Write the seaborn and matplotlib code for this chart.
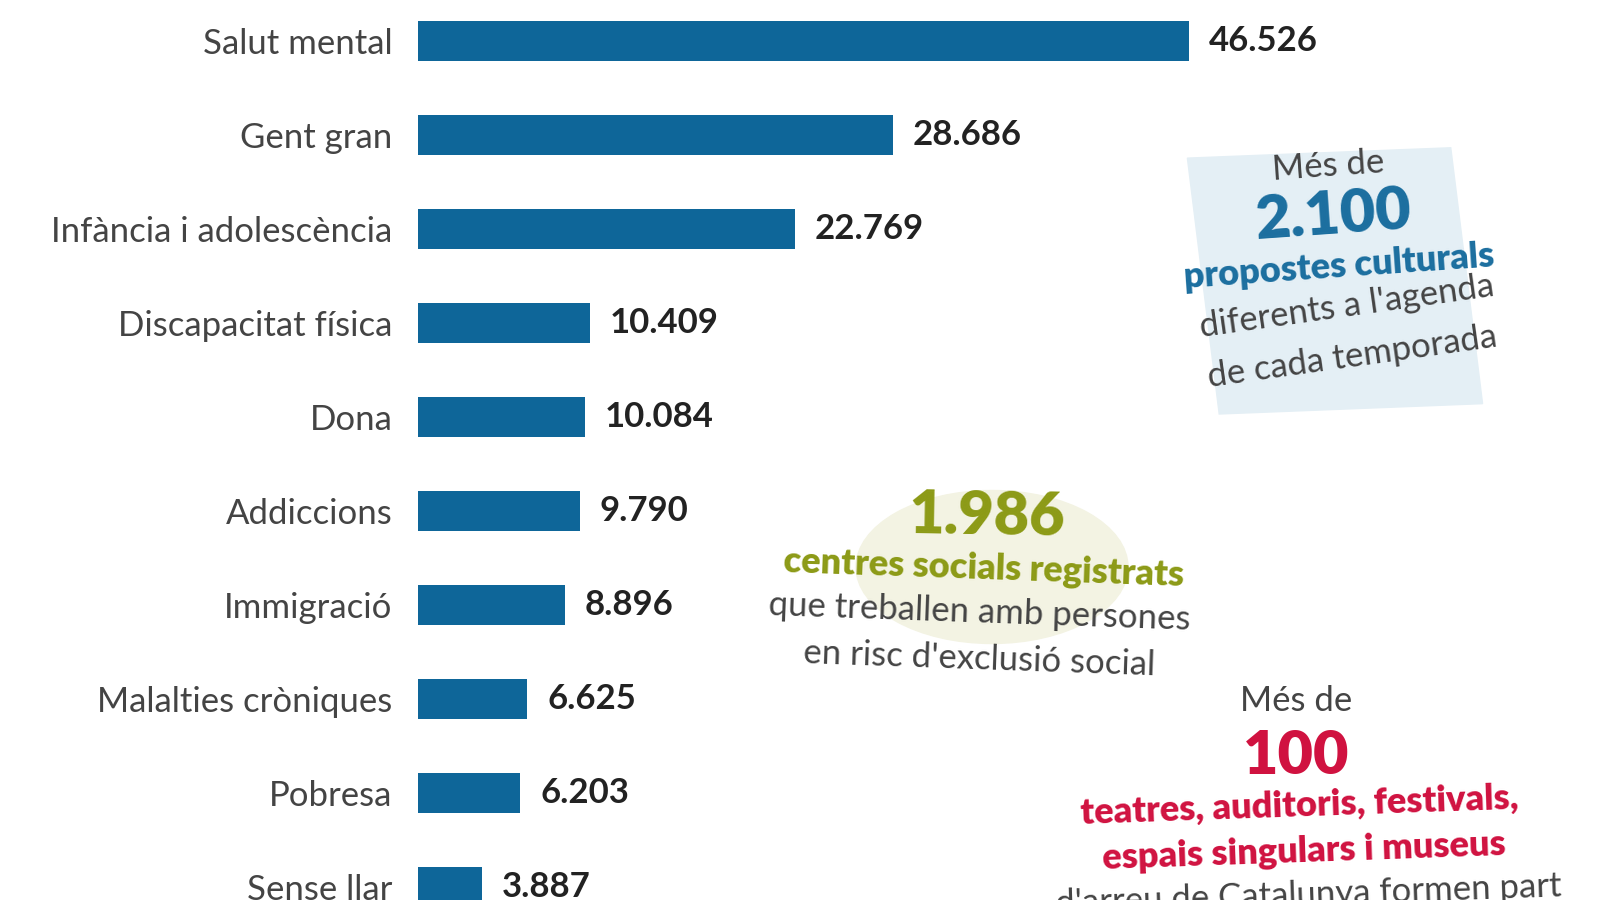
import matplotlib
matplotlib.use("Agg")
import matplotlib.pyplot as plt
import seaborn as sns
import pandas as pd
from matplotlib.patches import Rectangle, Circle

categories = ["Salut mental", "Gent gran", "Infància i adolescència", "Discapacitat física",
              "Dona", "Addiccions", "Immigració", "Malalties cròniques", "Pobresa", "Sense llar"]
values = [46526, 28686, 22769, 10409, 10084, 9790, 8896, 6625, 6203, 3887]
value_labels = ["46.526", "28.686", "22.769", "10.409", "10.084", "9.790", "8.896", "6.625", "6.203", "3.887"]

df = pd.DataFrame({"cat": categories, "val": values})
plt.rcParams["font.family"] = "Lato"
fig = plt.figure(figsize=(16, 9), dpi=100)
ax = fig.add_axes([0.261, 0, 0.739, 1])
sns.barplot(data=df, y="cat", x="val", orient="h", color="#0e6699", width=0.43, ax=ax, saturation=1)
ax.set_xlim(0, 71330)
ax.set_ylim(9.14, -0.436)
for s in ax.spines.values():
    s.set_visible(False)
ax.set_xticks([])
ax.set_xlabel(""); ax.set_ylabel("")
ax.tick_params(axis="y", length=0, pad=18, labelsize=25, labelcolor="#444444")
for i, (v, l) in enumerate(zip(values, value_labels)):
    ax.text(v + 1200, i, l, va="center", ha="left", fontsize=25, fontweight="bold", color="#222222")

# Top-right box
fig.patches.append(Rectangle((0.762, 0.54), 0.165, 0.285, transform=fig.transFigure,
                             color="#e4eff5", angle=4, zorder=0))
fig.text(0.83, 0.80, "Més de", fontsize=25, color="#444444", ha="center", rotation=4)
fig.text(0.833, 0.735, "2.100", fontsize=44, fontweight="black", color="#1b6e9f", ha="center", rotation=4)
fig.text(0.837, 0.68, "propostes culturals", fontsize=26, fontweight="black", color="#1b6e9f", ha="center", rotation=4)
fig.text(0.842, 0.625, "diferents a l'agenda", fontsize=25, color="#444444", ha="center", rotation=8)
fig.text(0.845, 0.57, "de cada temporada", fontsize=25, color="#444444", ha="center", rotation=8)

# Middle circle
fig.patches.append(Circle((0.62, 0.37), 0.085, transform=fig.transFigure, color="#f3f3e3", zorder=0))
ax2 = fig.add_axes([0, 0, 1, 1], zorder=-1); ax2.axis("off")
ax2.add_patch(Circle((0.617, 0.37), 0.083, color="#f4f4e4", transform=ax2.transAxes))
ax2.set_aspect("auto")
fig.text(0.617, 0.405, "1.986", fontsize=44, fontweight="black", color="#8c9a16", ha="center", rotation=-1)
fig.text(0.615, 0.35, "centres socials registrats", fontsize=26, fontweight="black", color="#8c9a16", ha="center", rotation=-2)
fig.text(0.612, 0.3, "que treballen amb persones", fontsize=25, color="#444444", ha="center", rotation=-2)
fig.text(0.612, 0.25, "en risc d'exclusió social", fontsize=25, color="#444444", ha="center", rotation=-2)

# Bottom right
fig.text(0.81, 0.21, "Més de", fontsize=25, color="#444444", ha="center")
fig.text(0.81, 0.14, "100", fontsize=44, fontweight="black", color="#d01240", ha="center")
fig.text(0.812, 0.085, "teatres, auditoris, festivals,", fontsize=26, fontweight="black", color="#d01240", ha="center", rotation=2)
fig.text(0.815, 0.035, "espais singulars i museus", fontsize=26, fontweight="black", color="#d01240", ha="center", rotation=2)
fig.text(0.818, -0.015, "d'arreu de Catalunya formen part", fontsize=25, color="#444444", ha="center", rotation=2)

fig.savefig("out.png", dpi=100)
